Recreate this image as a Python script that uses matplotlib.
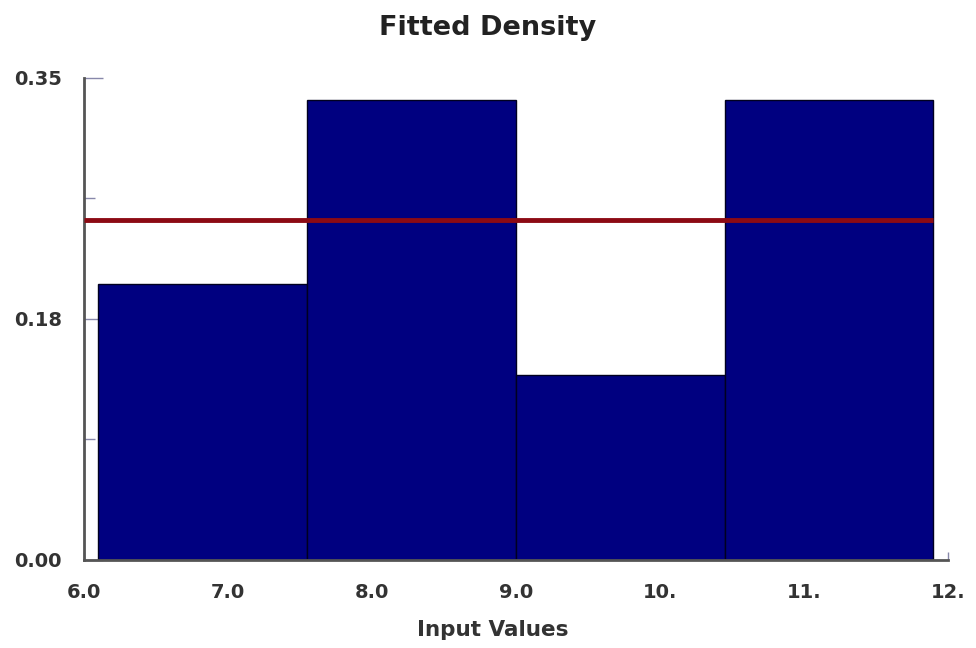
import matplotlib
matplotlib.use('Agg')
import matplotlib.pyplot as plt
from matplotlib.ticker import FixedLocator

# ─── DATOS ────────────────────────────────────────────────────────────────────
bin_edges   = [6.1, 7.55, 9.0, 10.45, 11.9]
bin_heights = [0.200, 0.334, 0.134, 0.334]
fitted_x    = [6.0, 11.9]
fitted_y    = [0.247, 0.247]

x_ticks       = [6, 7, 8, 9, 10, 11, 12]
x_tick_labels = ['6.0', '7.0', '8.0', '9.0', '10.', '11.', '12.']
y_ticks       = [0.0, 0.175, 0.35]
y_tick_labels = ['0.00', '0.18', '0.35']
y_minor       = [0.0875, 0.2625]

# ─── GRÁFICA ──────────────────────────────────────────────────────────────────
fig = plt.figure(figsize=(9.76, 6.48), dpi=100)
ax = fig.add_axes([0.086, 0.136, 0.885, 0.744])

lefts  = bin_edges[:-1]
widths = [b - a for a, b in zip(bin_edges[:-1], bin_edges[1:])]
ax.bar(lefts, bin_heights, width=widths, align='edge',
       color='#000080', edgecolor='#000020', linewidth=1.0, zorder=2)
ax.plot(fitted_x, fitted_y, color='#8c0a14', linewidth=3.5, zorder=3,
        solid_capstyle='butt')

ax.set_xlim(6.0, 12.0)
ax.set_ylim(0.0, 0.35)
ax.set_xticks(x_ticks)
ax.set_xticklabels(x_tick_labels)
ax.set_yticks(y_ticks)
ax.set_yticklabels(y_tick_labels)
ax.yaxis.set_minor_locator(FixedLocator(y_minor))

for s in ['top', 'right']:
    ax.spines[s].set_visible(False)
for s in ['left', 'bottom']:
    ax.spines[s].set_color('#555555')
    ax.spines[s].set_linewidth(2)

ax.tick_params(axis='both', which='both', direction='in', colors='#8888aa',
               labelcolor='#333333', labelsize=14)
ax.tick_params(axis='y', which='major', length=14, width=1, pad=16)
ax.tick_params(axis='y', which='minor', length=8, width=1)
ax.tick_params(axis='x', which='major', length=6, width=1, pad=17)
for lbl in ax.get_xticklabels() + ax.get_yticklabels():
    lbl.set_fontweight('bold')

fig.text(0.5, 1 - 28 / 648, 'Fitted Density', ha='center', va='center',
         fontsize=19.5, fontweight='bold', color='#222222')
fig.text(0.505, 1 - 630 / 648, 'Input Values', ha='center', va='center',
         fontsize=15.5, fontweight='bold', color='#333333')

plt.savefig('out.png', dpi=100)
plt.close()
